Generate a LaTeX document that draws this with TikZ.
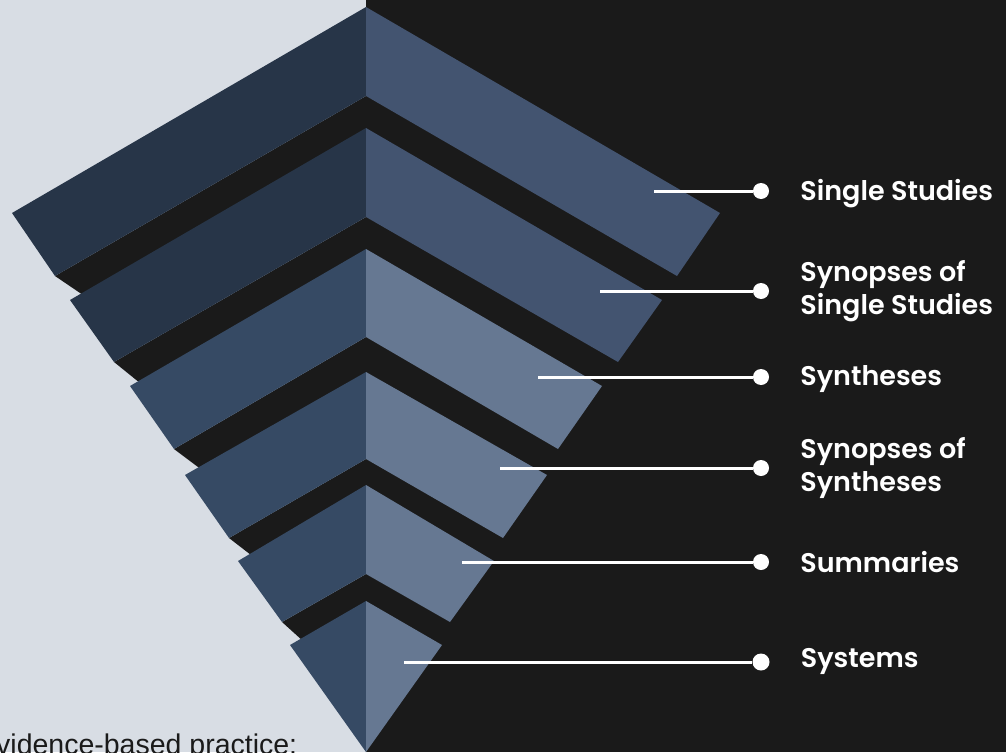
\documentclass[tikz,border=0pt]{standalone}
\usepackage{fontspec}
\setmainfont{Liberation Sans}
\newfontfamily\lblfont{Poppins SemiBold}
\usepackage{tikz}
\usetikzlibrary{positioning}

\definecolor{bglight}{HTML}{D8DDE4}
\definecolor{bgdark}{HTML}{1A1A1A}
\definecolor{topleft}{HTML}{273548}
\definecolor{topright}{HTML}{435470}
\definecolor{lowleft}{HTML}{364A64}
\definecolor{lowright}{HTML}{667892}

\begin{document}
\begin{tikzpicture}[x=1pt,y=-1pt,
  lbl/.style={font=\lblfont\fontsize{27}{33}\selectfont,text=white,align=left,inner sep=0pt},
  dot/.style={circle,fill=white,inner sep=0pt,minimum size=16pt},
  conn/.style={white,line width=3pt},
  node distance=31pt]
  \useasboundingbox (0,0) rectangle (1006,752);
  \fill[bglight] (0,0) rectangle (366,752);
  \fill[bgdark] (366,0) rectangle (1006,752);
  % black gaps between the layers
  \foreach \bdx/\by/\cb/\pdx/\py/\nct in {311/276/96/283/292/128,252/362/217/226/380/249,
      192/449/337/164/467/372,137/538/459/115/552/485,84/622/574/63/638/601}{
    \fill[bgdark] (366-\bdx,\by) -- (366,\cb) -- (366+\bdx,\by) -- (366+\pdx,\py+3)
      -- (366,\nct+3) -- (366-\pdx,\py+3) -- cycle;
  }
  % layers, top to bottom
  \foreach \ct/\tdx/\ty/\bdx/\by/\cb/\lc/\rc in {7/354/213/311/276/96/topleft/topright,
      128/296/300/252/362/217/topleft/topright,249/236/386/192/449/337/lowleft/lowright,
      372/181/475/137/538/459/lowleft/lowright,485/128/561/84/622/574/lowleft/lowright,
      601/76/645/0/752/752/lowleft/lowright}{
    \fill[\lc] (366,\ct) -- (366-\tdx,\ty) -- (366-\bdx,\by) -- (366,\cb) -- cycle;
    \fill[\rc] (366,\ct) -- (366+\tdx,\ty) -- (366+\bdx,\by) -- (366,\cb) -- cycle;
  }
  % connectors and labels
  \coordinate (s1) at (654,191); \node[dot] (d1) at (761,191) {};
  \coordinate (s2) at (600,291); \node[dot] (d2) at (761,291) {};
  \coordinate (s3) at (538,377); \node[dot] (d3) at (761,377) {};
  \coordinate (s4) at (500,468); \node[dot] (d4) at (761,468) {};
  \coordinate (s5) at (462,562); \node[dot] (d5) at (761,562) {};
  \coordinate (s6) at (404,662); \node[dot,minimum size=17pt] (d6) at (761,662) {};
  \draw[conn] (s1) -- (d1); \draw[conn] (s2) -- (d2); \draw[conn] (s3) -- (d3);
  \draw[conn] (s4) -- (d4); \draw[conn] (s5) -- (d5); \draw[conn] (s6) -- (d6);
  \node[lbl,right=of d1,yshift=-3pt] (t1) {Single Studies};
  \node[lbl,right=of d2] (t2) {Synopses of\\Single Studies};
  \node[lbl,right=of d3,yshift=-2pt] (t3) {Syntheses};
  \node[lbl,right=of d4] (t4) {Synopses of\\Syntheses};
  \node[lbl,right=of d5] (t5) {Summaries};
  \node[lbl,right=of d6,yshift=1pt] (t6) {Systems};
  \node[anchor=base west,inner sep=0pt,text=bgdark,font=\fontsize{28.5}{34}\selectfont] (cap) at (-4,754) {vidence-based practice:};
\end{tikzpicture}
\end{document}
